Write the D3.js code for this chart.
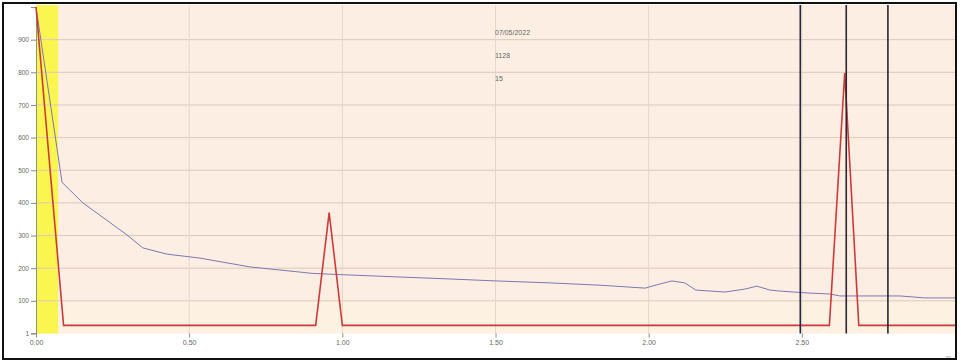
<!DOCTYPE html>
<html><head><meta charset="utf-8">
<script src="https://cdn.jsdelivr.net/npm/d3@7"></script>
<style>body{margin:0;background:#fff}svg{display:block;font-family:"Liberation Sans",Arial,sans-serif}</style>
</head><body><svg id="c" width="961" height="362"></svg>
<script>
const xTicks = [0, 0.5, 1.0, 1.5, 2.0, 2.5];
const xTickLabels = ["0.00", "0.50", "1.00", "1.50", "2.00", "2.50"];
const yTicks = [1, 100, 200, 300, 400, 500, 600, 700, 800, 900];
const yTickLabels = ["1", "100", "200", "300", "400", "500", "600", "700", "800", "900"];
const redX = [0, 0.09, 0.913, 0.957, 1.0, 2.59, 2.64, 2.686, 3.0];
const redY = [1000, 25, 25, 370, 25, 25, 798, 25, 25];
const blueX = [0, 0.085, 0.153, 0.297, 0.349, 0.428, 0.535, 0.698, 0.904, 1.002, 1.188, 1.351, 1.501, 1.678, 1.841, 1.988, 2.03, 2.076, 2.118, 2.154, 2.249, 2.314, 2.353, 2.396, 2.428, 2.52, 2.591, 2.624, 2.82, 2.901, 3.0];
const blueY = [1000, 463, 400, 302, 262, 243, 231, 204, 184, 180, 173, 167, 161, 155, 148, 139, 150, 161, 155, 133, 127, 136, 145, 133, 130, 124, 121, 115, 115, 109, 109];
const markers = [2.495, 2.645, 2.781];
const highlight = [0, 0.072];
const notes = ["07/05/2022", "1128", "15"];

const svg = d3.select("#c");
const L = 36, R = 955, T = 5, B = 333.5;
const x = d3.scaleLinear().domain([0, 3]).range([L, R]);
const y = d3.scaleLinear().domain([0, 1000]).range([B, 7]);

// outer frame
svg.append("rect").attr("x", 3).attr("y", 3).attr("width", 953).attr("height", 356)
  .attr("fill", "#fff").attr("stroke", "#111").attr("stroke-width", 2);

// plot background
svg.append("rect").attr("x", L).attr("y", T).attr("width", R - L).attr("height", B - T).attr("fill", "#fdeee3");
svg.append("rect").attr("x", L).attr("y", y(100)).attr("width", R - L).attr("height", B - y(100)).attr("fill", "#fdf1e2");

// highlight band
svg.append("rect").attr("x", x(highlight[0])).attr("y", T).attr("width", x(highlight[1]) - x(highlight[0]))
  .attr("height", B - T).attr("fill", "#fbf550");

// grid
const g = svg.append("g");
g.selectAll(".hg").data(yTicks.slice(1)).join("line")
  .attr("x1", L).attr("x2", R).attr("y1", d => y(d)).attr("y2", d => y(d))
  .attr("stroke", "#dcc9bb").attr("stroke-width", 1);
g.selectAll(".vg").data(xTicks.slice(1)).join("line")
  .attr("x1", d => x(d)).attr("x2", d => x(d)).attr("y1", T).attr("y2", B)
  .attr("stroke", "#e6d6c8").attr("stroke-width", 1);

// axes
const yAxis = d3.axisLeft(y).tickValues(yTicks).tickFormat((d, i) => yTickLabels[i]).tickSize(5).tickPadding(2);
const ya = svg.append("g").attr("transform", `translate(${L},0)`).call(yAxis);
ya.select(".domain").attr("stroke", "#8a9a70");
ya.selectAll(".tick line").attr("stroke", "#888");
ya.selectAll("text").attr("fill", "#666").attr("font-size", 6.5);

const xAxis = d3.axisBottom(x).tickValues(xTicks).tickFormat((d, i) => xTickLabels[i]).tickSize(4).tickPadding(3);
const xa = svg.append("g").attr("transform", `translate(0,${B})`).call(xAxis);
xa.select(".domain").remove();
xa.selectAll(".tick line").attr("stroke", "#888");
xa.selectAll("text").attr("fill", "#666").attr("font-size", 7);

// lines
const line = d3.line().x(d => x(d[0])).y(d => y(d[1]));
svg.append("path").datum(blueX.map((v, i) => [v, blueY[i]])).attr("d", line)
  .attr("fill", "none").attr("stroke", "#7b78b0").attr("stroke-width", 1);
svg.append("path").datum(redX.map((v, i) => [v, redY[i]])).attr("d", line)
  .attr("fill", "none").attr("stroke", "#cc3b3b").attr("stroke-width", 1.6);

// markers
svg.selectAll(".mk").data(markers).join("line")
  .attr("x1", d => x(d)).attr("x2", d => x(d)).attr("y1", T).attr("y2", B)
  .attr("stroke", (d, i) => i === 0 ? "#27274a" : "#2a2530").attr("stroke-width", 1.6);

// notes
svg.selectAll(".nt").data(notes).join("text")
  .attr("x", 495).attr("y", (d, i) => 35 + i * 23).text(d => d)
  .attr("font-size", 7).attr("fill", "#666");

svg.append("text").attr("x", 951).attr("y", 358).attr("text-anchor", "end").attr("font-size", 4).attr("fill", "#999").text("ms");
</script></body></html>
